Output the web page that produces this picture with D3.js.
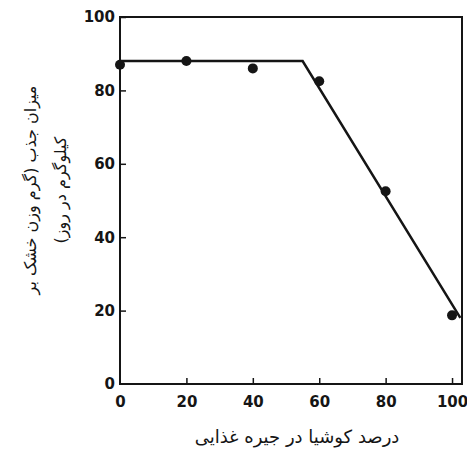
<!DOCTYPE html>
<html>
<head>
<meta charset="utf-8">
<script src="https://cdn.jsdelivr.net/npm/d3@7"></script>
<style>
  body { margin: 0; background: #fff; }
</style>
</head>
<body>
<div id="chart"></div>
<script>
// measured points: percent of kochia in diet vs uptake
const percent = [0, 20, 40, 60, 80, 100];
const uptake = [87, 88, 86, 82.5, 52.5, 18.7];

// fitted broken line (plateau then decline)
const fitX = [0, 55, 102.5];
const fitY = [88, 88, 18];

const xTicks = [0, 20, 40, 60, 80, 100];
const yTicks = [0, 20, 40, 60, 80, 100];

const xTitle = "درصد کوشیا در جیره غذایی";
const yTitle1 = "میزان جذب (گرم وزن خشک بر";
const yTitle2 = "کیلوگرم در روز)";

const W = 467, H = 452;
const margin = { top: 17, right: 5, bottom: 68, left: 120 },
  width = W - margin.left - margin.right,
  height = H - margin.top - margin.bottom;

const svg = d3
  .select("#chart")
  .append("svg")
  .attr("width", W)
  .attr("height", H);

const g = svg
  .append("g")
  .attr("transform", `translate(${margin.left}, ${margin.top})`);

const x = d3.scaleLinear().domain([0, 103]).range([0, width]);
const y = d3.scaleLinear().domain([0, 100]).range([height, 0]);

const ink = "#151515";

// frame
g.append("rect")
  .attr("x", 0)
  .attr("y", 0)
  .attr("width", width)
  .attr("height", height)
  .attr("fill", "none")
  .attr("stroke", ink)
  .attr("stroke-width", 2);

// axes with inward ticks
const xAxis = g
  .append("g")
  .attr("transform", `translate(0, ${height})`)
  .call(
    d3.axisBottom(x).tickValues(xTicks).tickSizeInner(-6).tickSizeOuter(0).tickPadding(12)
  );

const yAxis = g
  .append("g")
  .call(
    d3.axisLeft(y).tickValues(yTicks).tickSizeInner(-6).tickSizeOuter(0).tickPadding(5)
  );

[xAxis, yAxis].forEach(function (a) {
  a.select(".domain").remove();
  a.selectAll(".tick line").attr("stroke", ink).attr("stroke-width", 1.5);
  a.selectAll(".tick text")
    .attr("fill", ink)
    .style("font-family", "'DejaVu Sans', sans-serif")
    .style("font-weight", "bold")
    .style("font-size", "15px");
});
xAxis.selectAll(".tick").filter(function (d) { return d === 0; }).select("line").remove();
yAxis.selectAll(".tick").filter(function (d) { return d === 0; }).select("line").remove();

// fitted line
const line = d3
  .line()
  .x(function (d) { return x(d[0]); })
  .y(function (d) { return y(d[1]); });

g.append("path")
  .datum(d3.zip(fitX, fitY))
  .attr("d", line)
  .attr("fill", "none")
  .attr("stroke", ink)
  .attr("stroke-width", 2.5);

// points
g.selectAll("circle")
  .data(d3.zip(percent, uptake))
  .join("circle")
  .attr("cx", function (d) { return x(d[0]); })
  .attr("cy", function (d) { return y(d[1]); })
  .attr("r", 5)
  .attr("fill", ink);

// titles
svg
  .append("text")
  .attr("x", 297)
  .attr("y", 443)
  .attr("text-anchor", "middle")
  .attr("direction", "rtl")
  .style("font-family", "'DejaVu Sans', sans-serif")
  .style("font-size", "18px")
  .attr("fill", ink)
  .text(xTitle);

const yt = svg
  .append("g")
  .attr("transform", "translate(0, 190) rotate(-90)");

yt.append("text")
  .attr("x", 0)
  .attr("y", 36)
  .attr("text-anchor", "middle")
  .attr("direction", "rtl")
  .style("font-family", "'DejaVu Sans', sans-serif")
  .style("font-size", "16px")
  .attr("fill", ink)
  .text(yTitle1);

yt.append("text")
  .attr("x", 0)
  .attr("y", 66)
  .attr("text-anchor", "middle")
  .attr("direction", "rtl")
  .style("font-family", "'DejaVu Sans', sans-serif")
  .style("font-size", "16px")
  .attr("fill", ink)
  .text(yTitle2);
</script>
</body>
</html>
